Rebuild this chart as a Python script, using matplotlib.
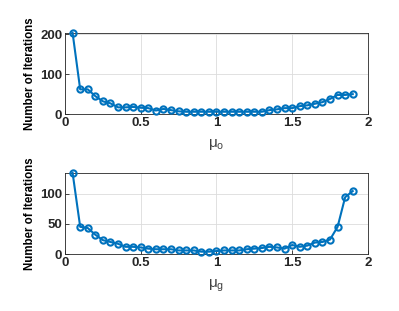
import numpy as np
import matplotlib
matplotlib.use('Agg')
import matplotlib.pyplot as plt
from matplotlib.ticker import FuncFormatter

# step sizes (0.05 ... 1.90)
mu = [0.05, 0.10, 0.15, 0.20, 0.25, 0.30, 0.35, 0.40, 0.45, 0.50,
      0.55, 0.60, 0.65, 0.70, 0.75, 0.80, 0.85, 0.90, 0.95, 1.00,
      1.05, 1.10, 1.15, 1.20, 1.25, 1.30, 1.35, 1.40, 1.45, 1.50,
      1.55, 1.60, 1.65, 1.70, 1.75, 1.80, 1.85, 1.90]

iters_o = [203, 62, 62, 45, 32, 27, 17, 17, 18, 16,
           15, 9, 13, 10, 7, 6, 6, 6, 6, 6,
           6, 6, 6, 6, 6, 6, 10, 12, 15, 15,
           20, 22, 26, 30, 38, 48, 48, 50]

iters_g = [134, 45, 43, 32, 23, 20, 17, 12, 12, 11,
           9, 8, 8, 8, 6, 6, 6, 4, 4, 5,
           6, 6, 6, 8, 9, 10, 12, 11, 9, 15,
           12, 14, 19, 20, 24, 45, 94, 104]

xlabels = ['\u03bc$_{\\rm o}$', '\u03bc$_{\\rm g}$']
yticks_list = [[0, 100, 200], [0, 50, 100]]

plt.rcParams['font.family'] = ['Liberation Sans', 'DejaVu Sans']
plt.rcParams['mathtext.fontset'] = 'custom'
plt.rcParams['mathtext.rm'] = 'Liberation Sans'

fig = plt.figure(figsize=(3.99, 3.11), dpi=100)
positions = [[0.163, 0.633, 0.759, 0.261], [0.163, 0.183, 0.759, 0.261]]

for pos, ys, xl, yt in zip(positions, [iters_o, iters_g], xlabels, yticks_list):
    ax = fig.add_axes(pos)
    ax.plot(mu, ys, '-o', color='#0072BD', lw=1.5, ms=4.5, mew=1.5,
            mfc='none', clip_on=False, zorder=3)
    ax.set_xlim(0, 2)
    ax.set_ylim(0, max(ys))
    ax.set_xticks([0, 0.5, 1, 1.5, 2])
    ax.xaxis.set_major_formatter(FuncFormatter(lambda v, p: f'{v:g}'))
    ax.set_yticks(yt)
    ax.grid(True, color='#dcdcdc', lw=0.6)
    ax.set_axisbelow(True)
    ax.tick_params(direction='in', length=3, width=0.6, colors='#262626',
                   labelsize=9.5, pad=2)
    for lab in ax.get_xticklabels() + ax.get_yticklabels():
        lab.set_fontweight('bold')
    for sp in ax.spines.values():
        sp.set_color('#262626')
        sp.set_linewidth(0.6)
    ax.set_ylabel('Number of Iterations', fontsize=8.3, fontweight='bold',
                  labelpad=3)
    ax.set_xlabel(xl, fontsize=11, color='#404040', labelpad=6)

fig.savefig('out.png', dpi=100, facecolor='white')
